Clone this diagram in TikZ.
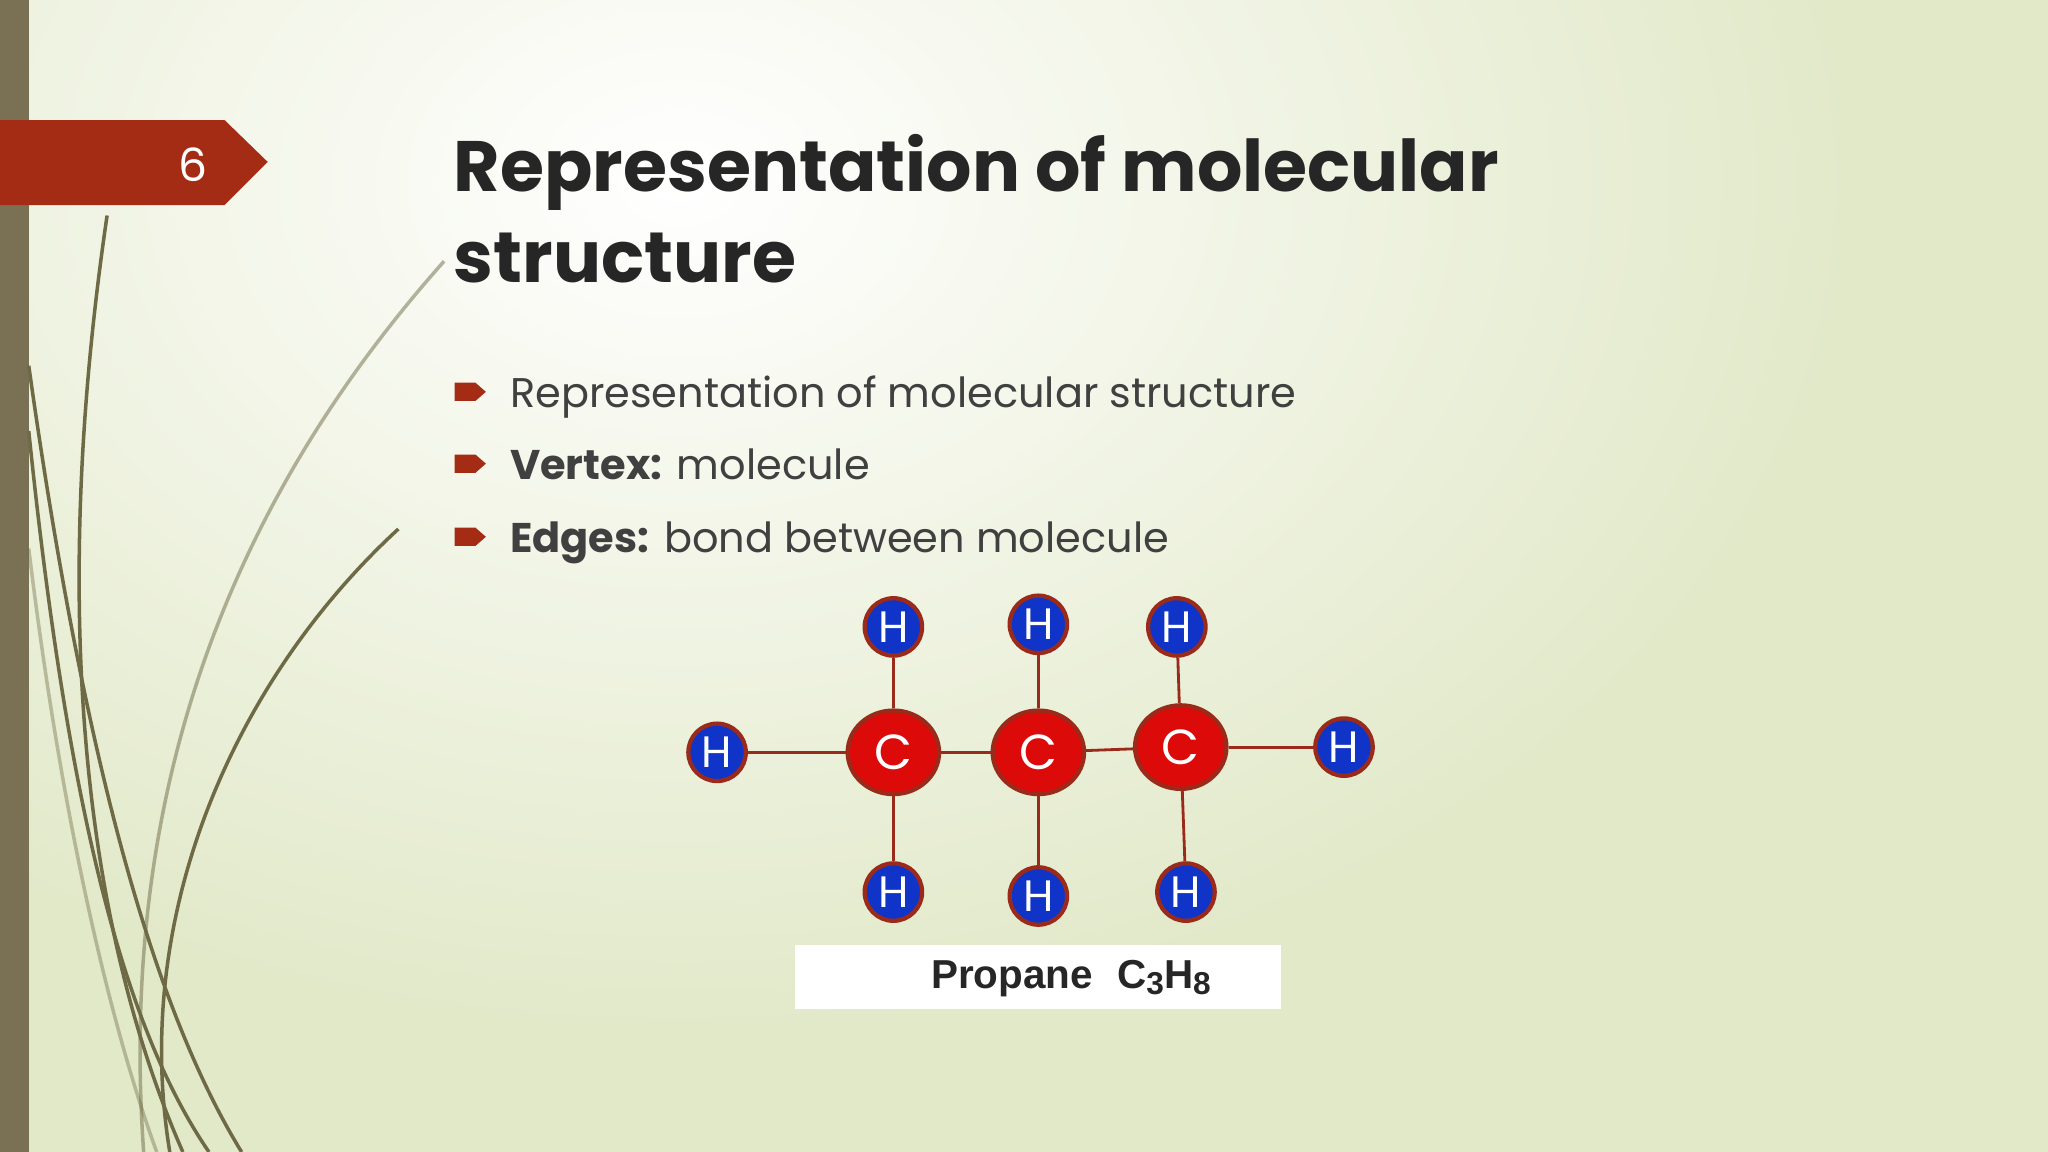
\documentclass[tikz,border=0pt]{standalone}
\usepackage{fontspec}
\setmainfont{Poppins}
\newfontfamily\arialf{Liberation Sans}
\usetikzlibrary{shapes.geometric}
\definecolor{bgg}{HTML}{E2E9C9}
\definecolor{tagred}{HTML}{A52C14}
\definecolor{barc}{HTML}{7A7155}
\definecolor{hblue}{HTML}{1134C8}
\definecolor{cred}{HTML}{DD0A0A}
\definecolor{bond}{HTML}{9A2A1A}
\definecolor{curvec}{HTML}{6E6A45}
\definecolor{txt}{HTML}{262626}
\definecolor{btc}{HTML}{404040}
\newlength{\pxu}\setlength{\pxu}{0.013061cm}
\tikzset{
 hat/.style={circle,fill=hblue,draw=bond,line width=1.2pt,minimum size=44\pxu,inner sep=0pt,text=white,font=\fontsize{12.5}{12.5}\selectfont},
 cat/.style={ellipse,fill=cred,draw=bond,line width=1.2pt,minimum width=70\pxu,minimum height=64\pxu,inner sep=0pt,text=white,font=\fontsize{14}{14}\selectfont},
 bnd/.style={draw=bond,line width=0.8pt},
 crv/.style={draw=curvec,line width=1pt},
 bul/.style={fill=tagred},
 btxt/.style={anchor=base west,text=btc,font=\fontsize{11.8}{11.8}\selectfont,inner sep=0pt}
}
\begin{document}
\begin{tikzpicture}[x=0.013061cm,y=-0.013061cm]
\useasboundingbox (0,0) rectangle (1568,882);
\fill[bgg] (0,0) rectangle (1568,882);
\shade[inner color=white,outer color=bgg] (520,140) ellipse (900 and 650);
\fill[barc] (0,0) rectangle (22,882);
% curves
\draw[crv] (82,165) .. controls (40,450) and (60,700) .. (140,882);
\draw[crv] (22,280) .. controls (60,550) and (110,760) .. (185,882);
\draw[crv] (22,330) .. controls (50,600) and (90,780) .. (160,882);
\draw[crv,opacity=0.5] (340,200) .. controls (180,380) and (90,600) .. (110,882);
\draw[crv] (305,405) .. controls (180,520) and (100,700) .. (130,882);
\draw[crv,opacity=0.4] (22,420) .. controls (50,650) and (90,800) .. (120,882);
% tag
\fill[tagred] (0,92) -- (172,92) -- (205,124) -- (172,157) -- (0,157) -- cycle;
\node[text=white,font=\fontsize{13}{13}\selectfont] (num) at (148,126) {6};
% title
\node[anchor=base west,inner sep=0pt,text=txt,font=\fontsize{20.3}{20.3}\selectfont\bfseries] (t1) at (347,147) {Representation of molecular};
\node[anchor=base west,inner sep=0pt,text=txt,font=\fontsize{20.3}{20.3}\selectfont\bfseries] (t2) at (347,216) {structure};
% bullets
\foreach \y in {300,355,411}{
 \fill[bul] (348,\y-7) -- (364,\y-7) -- (372,\y) -- (364,\y+7) -- (348,\y+7) -- cycle;}
\node[btxt] (b1) at (390,312) {Representation of molecular structure};
\node[btxt] (b2) at (390,367) {\textbf{Vertex:} molecule};
\node[btxt] (b3) at (390,423) {\textbf{Edges:} bond between molecule};
% molecule
\node[cat] (c1) at (684,576) {C};
\node[cat] (c2) at (795,576) {C};
\node[cat] (c3) at (904,572) {C};
\node[hat] (hl) at (549,576) {H};
\node[hat] (hr) at (1029,572) {H};
\node[hat] (h1) at (684,480) {H};
\node[hat] (h2) at (795,478) {H};
\node[hat] (h3) at (901,480) {H};
\node[hat] (h4) at (684,683) {H};
\node[hat] (h5) at (795,686) {H};
\node[hat] (h6) at (908,683) {H};
\draw[bnd] (hl) -- (c1); \draw[bnd] (c1) -- (c2); \draw[bnd] (c2) -- (c3); \draw[bnd] (c3) -- (hr);
\draw[bnd] (h1) -- (c1); \draw[bnd] (h2) -- (c2); \draw[bnd] (h3) -- (c3);
\draw[bnd] (c1) -- (h4); \draw[bnd] (c2) -- (h5); \draw[bnd] (c3) -- (h6);
% label
\node[fill=white,minimum width=372\pxu,minimum height=49\pxu,inner sep=0pt] (lab) at (795,748) {};
\node[font=\arialf\bfseries\fontsize{11.5}{11.5}\selectfont,text=txt] (labt) at (820,749) {Propane\hspace{0.6em}C\raisebox{-0.3ex}{\fontsize{9}{9}\selectfont 3}H\raisebox{-0.3ex}{\fontsize{9}{9}\selectfont 8}};
\end{tikzpicture}
\end{document}
